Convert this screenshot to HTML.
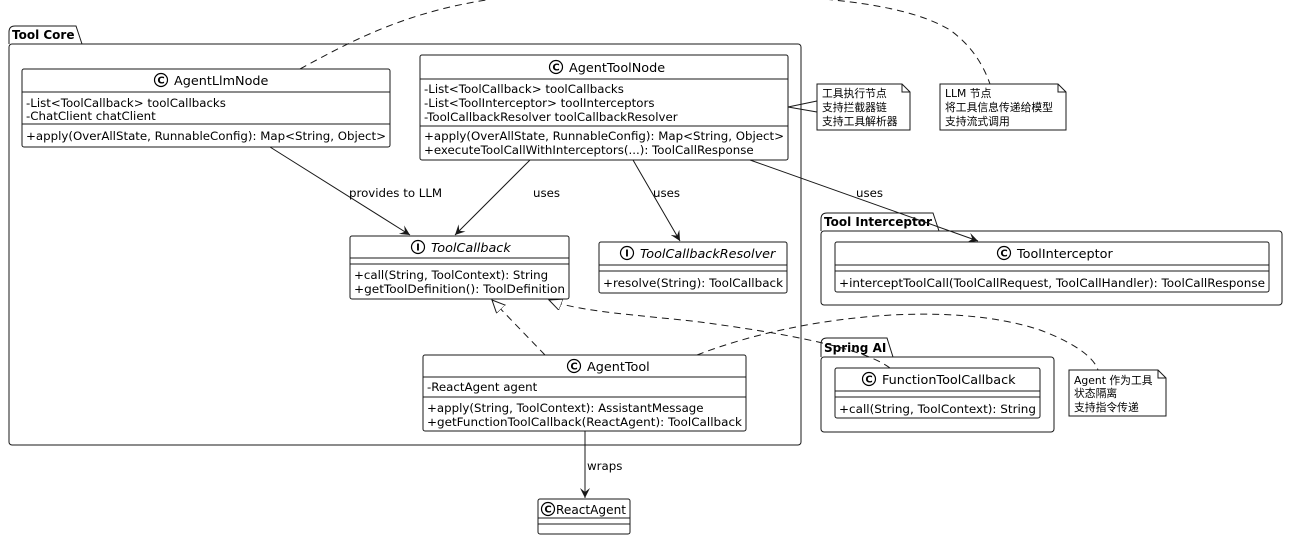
<!DOCTYPE html>
<html><head><meta charset="utf-8"><style>
html,body{margin:0;padding:0;background:#fff}
svg{display:block}
text{font-family:"DejaVu Sans","Noto Sans CJK SC",sans-serif;font-size:11.8px;fill:#000}
.t{font-size:12.8px}
.b{font-weight:bold;font-size:12px}
.i{font-style:italic}
.n{font-size:10.8px}
</style></head><body>
<svg width="1305" height="543" viewBox="0 0 1305 543" xmlns="http://www.w3.org/2000/svg">
<defs>
<marker id="a" markerWidth="12" markerHeight="12" refX="10" refY="5" orient="auto" markerUnits="userSpaceOnUse"><path d="M0,0 L10,5 L0,10 L4,5 Z" fill="#181818"/></marker>
<marker id="t" markerWidth="16" markerHeight="14" refX="13" refY="6" orient="auto" markerUnits="userSpaceOnUse"><path d="M0,0 L13,6 L0,12 Z" fill="#fff" stroke="#181818"/></marker>
</defs>
<g fill="none" stroke="#181818" stroke-width="1">
<path d="M9,44 V32 Q9,26 15,26 H76 L82,44"/>
<rect x="9" y="44" width="792" height="401" rx="3"/>
<path d="M821,231 V219 Q821,213 827,213 H933 L939,231"/>
<rect x="821" y="231" width="461" height="74" rx="3"/>
<path d="M821,357 V344 Q821,338 827,338 H887 L893,357"/>
<rect x="821" y="357" width="233" height="75" rx="3"/>
</g>
<text x="12" y="39" class="b">Tool Core</text>
<text x="824" y="226" class="b">Tool Interceptor</text>
<text x="824" y="352" class="b">Spring AI</text>

<g fill="none" stroke="#181818" stroke-dasharray="7,5">
<path d="M300,69 C380,25 450,-8 600,-8 C800,-8 900,0 950,30 C975,48 985,70 990,84"/>
</g>

<g fill="#fff" stroke="#181818">
<rect x="22" y="69" width="368" height="78" rx="2"/>
<line x1="22" y1="92" x2="390" y2="92"/><line x1="22" y1="124" x2="390" y2="124"/>
<rect x="420" y="55" width="368" height="105" rx="2"/>
<line x1="420" y1="79" x2="788" y2="79"/><line x1="420" y1="126" x2="788" y2="126"/>
<rect x="350" y="236" width="219" height="63" rx="2"/>
<line x1="350" y1="258" x2="569" y2="258"/><line x1="350" y1="264" x2="569" y2="264"/>
<rect x="599" y="242" width="188" height="51" rx="2"/>
<line x1="599" y1="265" x2="787" y2="265"/><line x1="599" y1="271" x2="787" y2="271"/>
<rect x="423" y="355" width="323" height="76" rx="2"/>
<line x1="423" y1="377" x2="746" y2="377"/><line x1="423" y1="397" x2="746" y2="397"/>
<rect x="538" y="499" width="92" height="35" rx="2"/>
<line x1="538" y1="518" x2="630" y2="518"/><line x1="538" y1="524" x2="630" y2="524"/>
<rect x="835" y="242" width="434" height="50" rx="2"/>
<line x1="835" y1="265" x2="1269" y2="265"/><line x1="835" y1="271" x2="1269" y2="271"/>
<rect x="835" y="368" width="205" height="50" rx="2"/>
<line x1="835" y1="391" x2="1040" y2="391"/><line x1="835" y1="397" x2="1040" y2="397"/>
<path d="M817,84 H902 L910,92 V130 H817 Z M902,84 V92 H910"/>
<path d="M940,84 H1058 L1066,92 V130 H940 Z M1058,84 V92 H1066"/>
<path d="M1069,370 H1158 L1166,378 V416 H1069 Z M1158,370 V378 H1166"/>
</g>
<path d="M788,107 L817,101 M788,107 L817,112" stroke="#181818" fill="none"/>

<g stroke="#000" fill="none" stroke-width="1.2">
<circle cx="161" cy="80" r="6.5"/><circle cx="556" cy="67" r="6.5"/><circle cx="418" cy="247" r="6.5"/>
<circle cx="627" cy="253" r="6.5"/><circle cx="574" cy="366" r="6.5"/><circle cx="548" cy="509" r="6.5"/>
<circle cx="1004" cy="253" r="6.5"/><circle cx="869" cy="379" r="6.5"/>
</g>
<g style="font-family:'Liberation Serif',serif;font-weight:bold" text-anchor="middle">
<text x="161" y="83.5" style="font-size:10px">C</text><text x="556" y="70.5" style="font-size:10px">C</text><text x="418" y="250.5" style="font-size:10px">I</text>
<text x="627" y="256.5" style="font-size:10px">I</text><text x="574" y="369.5" style="font-size:10px">C</text><text x="548" y="512.5" style="font-size:10px">C</text>
<text x="1004" y="256.5" style="font-size:10px">C</text><text x="869" y="382.5" style="font-size:10px">C</text>
</g>
<text x="174" y="85" class="t">AgentLlmNode</text>
<text x="26" y="107">-List&lt;ToolCallback&gt; toolCallbacks</text>
<text x="26" y="120">-ChatClient chatClient</text>
<text x="26" y="140" textLength="360" lengthAdjust="spacingAndGlyphs">+apply(OverAllState, RunnableConfig): Map&lt;String, Object&gt;</text>

<text x="569" y="72" class="t">AgentToolNode</text>
<text x="424" y="93">-List&lt;ToolCallback&gt; toolCallbacks</text>
<text x="424" y="107">-List&lt;ToolInterceptor&gt; toolInterceptors</text>
<text x="424" y="121">-ToolCallbackResolver toolCallbackResolver</text>
<text x="424" y="140" textLength="360" lengthAdjust="spacingAndGlyphs">+apply(OverAllState, RunnableConfig): Map&lt;String, Object&gt;</text>
<text x="424" y="154">+executeToolCallWithInterceptors(...): ToolCallResponse</text>

<text x="431" y="252" class="t i">ToolCallback</text>
<text x="354" y="279">+call(String, ToolContext): String</text>
<text x="354" y="293" textLength="211" lengthAdjust="spacingAndGlyphs">+getToolDefinition(): ToolDefinition</text>

<text x="640" y="258" class="t i">ToolCallbackResolver</text>
<text x="603" y="287" textLength="180" lengthAdjust="spacingAndGlyphs">+resolve(String): ToolCallback</text>

<text x="587" y="371" class="t">AgentTool</text>
<text x="427" y="391">-ReactAgent agent</text>
<text x="427" y="412">+apply(String, ToolContext): AssistantMessage</text>
<text x="427" y="426" textLength="315" lengthAdjust="spacingAndGlyphs">+getFunctionToolCallback(ReactAgent): ToolCallback</text>

<text x="556" y="514" class="t" textLength="70" lengthAdjust="spacingAndGlyphs">ReactAgent</text>

<text x="1017" y="258" class="t">ToolInterceptor</text>
<text x="839" y="287" textLength="426" lengthAdjust="spacingAndGlyphs">+interceptToolCall(ToolCallRequest, ToolCallHandler): ToolCallResponse</text>

<text x="882" y="384" class="t">FunctionToolCallback</text>
<text x="839" y="413" textLength="197" lengthAdjust="spacingAndGlyphs">+call(String, ToolContext): String</text>

<text x="822" y="97" class="n">工具执行节点</text>
<text x="822" y="111" class="n">支持拦截器链</text>
<text x="822" y="125" class="n">支持工具解析器</text>
<text x="945" y="97" class="n">LLM 节点</text>
<text x="945" y="111" class="n">将工具信息传递给模型</text>
<text x="945" y="125" class="n">支持流式调用</text>
<text x="1074" y="384" class="n">Agent 作为工具</text>
<text x="1074" y="397" class="n">状态隔离</text>
<text x="1074" y="411" class="n">支持指令传递</text>

<g fill="none" stroke="#181818">
<line x1="270" y1="147" x2="410" y2="235" marker-end="url(#a)"/>
<line x1="530" y1="160" x2="455" y2="235" marker-end="url(#a)"/>
<line x1="633" y1="160" x2="680" y2="241" marker-end="url(#a)"/>
<line x1="750" y1="160" x2="978" y2="241" marker-end="url(#a)"/>
<line x1="585" y1="431" x2="585" y2="498" marker-end="url(#a)"/>
<g stroke-dasharray="7,5">
<line x1="545" y1="355" x2="492" y2="300" marker-end="url(#t)"/>
<path d="M890,368 C860,345 760,330 700,322 C640,315 580,312 549,300" marker-end="url(#t)"/>
<path d="M697,355 C800,315 950,300 1040,330 C1080,345 1095,360 1098,370"/>
</g>
</g>
<text x="349" y="197">provides to LLM</text>
<text x="533" y="197">uses</text>
<text x="653" y="197">uses</text>
<text x="856" y="197">uses</text>
<text x="587" y="470">wraps</text>
</svg>
</body></html>
